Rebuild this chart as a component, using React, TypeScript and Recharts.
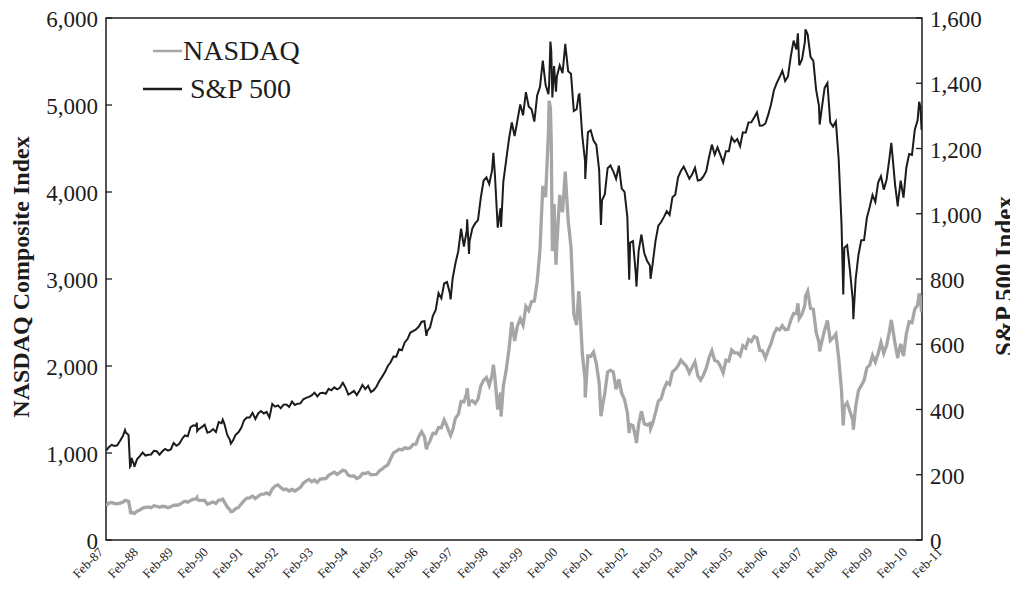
import React from "react"
import { LineChart, Line, XAxis, YAxis, ReferenceArea, ReferenceLine } from "recharts"

// month-end closes, Jan-87 .. Feb-11 (first value sits at Feb-87)
const spMonthEnd = [
  274.1, 284.2, 291.7, 288.4, 290.1, 304.0, 318.7, 329.8, 321.8, 251.8, 230.3, 247.1,
  257.1, 267.8, 258.9, 261.3, 262.2, 273.5, 272.0, 261.5, 271.9, 278.9, 273.7, 277.7,
  297.5, 288.9, 294.9, 309.6, 320.5, 318.0, 346.1, 351.5, 349.2, 340.4, 346.0, 353.4,
  329.1, 331.9, 339.9, 330.8, 361.2, 358.0, 356.2, 322.6, 306.1, 304.0, 322.2, 330.2,
  343.9, 367.1, 375.2, 375.3, 389.8, 371.2, 387.8, 395.4, 387.9, 392.5, 375.2, 417.1,
  408.8, 412.7, 403.7, 415.0, 415.4, 408.1, 424.2, 414.0, 417.8, 418.7, 431.4, 435.7,
  438.8, 443.4, 451.7, 440.2, 450.2, 451.0, 448.1, 463.6, 458.9, 467.8, 461.8, 466.5,
  481.6, 467.1, 445.8, 450.9, 457.0, 444.3, 458.3, 475.5, 462.7, 472.4, 453.7, 459.3,
  470.4, 487.4, 500.7, 514.7, 533.4, 544.8, 562.1, 561.9, 584.4, 581.5, 605.4, 615.9,
  636.0, 640.4, 645.5, 654.2, 669.1, 670.6, 640.0, 652.0, 687.3, 705.3, 757.0, 740.7,
  786.2, 790.8, 757.1, 801.3, 848.3, 885.1, 954.3, 899.5, 947.3, 914.6, 955.4, 970.4,
  980.3, 1049.3, 1101.8, 1111.8, 1090.8, 1133.8, 1120.7, 957.3, 1017.0, 1098.7, 1163.6, 1229.2,
  1279.6, 1238.3, 1286.4, 1335.2, 1301.8, 1372.7, 1328.7, 1320.4, 1282.7, 1362.9, 1388.9, 1469.3,
  1394.5, 1366.4, 1498.6, 1452.4, 1420.6, 1454.6, 1430.8, 1517.7, 1436.5, 1429.4, 1315.0, 1320.3,
  1366.0, 1239.9, 1160.3, 1249.5, 1255.8, 1224.4, 1211.2, 1133.6, 1040.9, 1059.8, 1139.5, 1148.1,
  1130.2, 1106.7, 1147.4, 1076.9, 1067.1, 989.8, 911.6, 916.1, 815.3, 885.8, 936.3, 879.8,
  855.7, 841.2, 848.2, 916.9, 963.6, 974.5, 990.3, 1008.0, 996.0, 1050.7, 1058.2, 1111.9,
  1131.1, 1144.9, 1126.2, 1107.3, 1120.7, 1140.8, 1101.7, 1104.2, 1114.6, 1130.2, 1173.8, 1211.9,
  1181.3, 1203.6, 1180.6, 1156.9, 1191.5, 1191.3, 1234.2, 1220.3, 1228.8, 1207.0, 1249.5, 1248.3,
  1280.1, 1280.7, 1294.8, 1310.6, 1270.1, 1270.2, 1276.7, 1303.8, 1335.9, 1377.9, 1400.6, 1418.3,
  1438.2, 1406.8, 1420.9, 1482.4, 1530.6, 1503.4, 1455.3, 1474.0, 1526.8, 1549.4, 1481.1, 1468.4,
  1378.6, 1330.6, 1322.7, 1385.6, 1400.4, 1280.0, 1267.4, 1282.8, 1166.4, 968.8, 896.2, 903.3,
  825.9, 735.1, 797.9, 872.8, 919.1, 919.3, 987.5, 1020.6, 1057.1, 1036.2, 1095.6, 1115.1,
  1073.9, 1104.5, 1169.4, 1186.7, 1089.4, 1030.7, 1101.6, 1049.3, 1141.2, 1183.3, 1180.6, 1257.6,
  1286.1, 1327.2,
]

const nqMonthEnd = [
  392.1, 424.0, 430.1, 417.8, 416.5, 424.7, 434.9, 455.0, 444.3, 323.3, 305.2, 330.5,
  344.7, 367.0, 374.6, 379.2, 370.3, 394.7, 387.3, 376.6, 387.7, 382.5, 371.5, 381.4,
  401.3, 399.7, 406.7, 427.6, 446.2, 435.3, 453.8, 469.3, 472.9, 455.6, 456.1, 454.8,
  410.7, 425.8, 435.5, 420.1, 459.0, 462.3, 438.2, 381.2, 344.5, 329.8, 359.1, 373.8,
  414.2, 453.1, 482.3, 484.7, 506.1, 475.9, 502.0, 525.7, 526.9, 543.0, 523.9, 586.3,
  620.2, 633.5, 603.8, 578.7, 585.3, 563.6, 580.8, 563.1, 583.3, 605.2, 652.7, 677.0,
  696.3, 670.8, 690.1, 661.4, 700.5, 704.0, 704.7, 742.8, 762.8, 779.3, 754.4, 776.8,
  800.5, 792.5, 743.5, 733.8, 735.2, 706.0, 722.2, 765.6, 764.3, 777.5, 750.3, 752.0,
  755.2, 793.7, 817.2, 844.0, 864.6, 933.5, 1001.2, 1020.1, 1043.5, 1036.1, 1059.2, 1052.1,
  1059.8, 1100.1, 1101.4, 1190.5, 1243.4, 1185.0, 1080.6, 1141.5, 1226.9, 1221.5, 1292.6, 1291.0,
  1379.9, 1309.0, 1221.7, 1260.8, 1400.3, 1442.1, 1593.8, 1587.3, 1685.7, 1593.6, 1601.0, 1570.4,
  1619.4, 1770.5, 1835.7, 1868.4, 1778.9, 1894.7, 1872.4, 1499.3, 1693.8, 1771.4, 1949.5, 2192.7,
  2505.9, 2288.0, 2461.4, 2542.9, 2470.5, 2686.1, 2638.5, 2739.4, 2746.2, 2966.4, 3336.2, 4069.3,
  3940.4, 4696.7, 4572.8, 3860.7, 3400.9, 3966.1, 3767.0, 4206.4, 3672.8, 3369.6, 2597.9, 2470.5,
  2772.7, 2151.8, 1840.3, 2116.2, 2110.5, 2160.5, 2027.1, 1805.4, 1498.8, 1690.2, 1930.6, 1950.4,
  1934.0, 1731.5, 1845.4, 1688.2, 1615.7, 1463.2, 1328.3, 1314.9, 1172.1, 1329.8, 1478.8, 1335.5,
  1320.9, 1337.5, 1341.2, 1464.3, 1595.9, 1622.8, 1735.0, 1810.5, 1786.9, 1932.2, 1960.3, 2003.4,
  2066.2, 2029.8, 1994.2, 1920.2, 1986.7, 2047.8, 1887.4, 1838.1, 1896.8, 1975.0, 2096.8, 2175.4,
  2062.4, 2051.7, 1999.2, 1921.7, 2068.2, 2057.0, 2184.8, 2152.1, 2151.7, 2120.3, 2232.8, 2205.3,
  2305.8, 2281.4, 2339.8, 2322.6, 2178.9, 2172.1, 2091.5, 2183.8, 2258.4, 2366.7, 2431.8, 2415.3,
  2463.9, 2416.2, 2421.6, 2525.1, 2604.5, 2603.2, 2546.3, 2596.4, 2701.5, 2859.1, 2661.0, 2652.3,
  2389.9, 2271.5, 2279.1, 2412.8, 2522.7, 2293.0, 2325.6, 2367.5, 2091.9, 1721.0, 1535.6, 1577.0,
  1476.4, 1377.8, 1528.6, 1717.3, 1774.3, 1835.0, 1979.0, 2009.1, 2122.4, 2045.1, 2144.6, 2269.2,
  2147.4, 2238.3, 2398.0, 2461.2, 2257.0, 2109.2, 2254.7, 2114.0, 2368.6, 2507.4, 2498.2, 2652.9,
  2700.1, 2782.3,
]

// intra-month highs and lows that show in the daily lines
const extraDates = [
  "1987-08-25", "1987-10-19", "1987-10-26", "1987-12-04", "1989-10-09", "1989-10-13",
  "1990-07-16", "1990-10-11", "1994-02-02", "1996-07-24", "1997-04-11", "1997-10-07",
  "1997-10-27", "1998-07-17", "1998-10-08", "2000-03-10", "2000-03-24", "2000-04-14",
  "2000-05-23", "2000-09-01", "2001-01-24", "2001-04-04", "2001-09-21", "2002-07-23",
  "2002-10-09", "2003-03-11", "2007-07-19", "2007-10-09", "2008-03-10", "2008-11-20",
  "2009-03-09", "2010-04-23", "2010-07-02", "2011-02-18", "2011-03-16",
]
const extraNq = [
  455, 360, 299, 305, 485, 467,
  469, 325, 803, 1042, 1201, 1745,
  1535, 2015, 1419, 5048, 4963, 3321,
  3164, 4234, 2859, 1638, 1423, 1229,
  1114, 1279, 2720, 2803, 2169, 1316,
  1269, 2530, 2091, 2833, 2617,
]
const extraSp = [
  336.8, 224.8, 227.7, 223.9, 359.8, 333.7,
  369.0, 295.5, 482.0, 626.0, 737.7, 983.1,
  877.0, 1186.8, 959.4, 1395.1, 1527.5, 1356.6,
  1373.9, 1520.8, 1365.0, 1106.5, 965.8, 797.7,
  776.8, 800.7, 1553.1, 1565.2, 1273.4, 752.4,
  676.5, 1217.3, 1022.6, 1343.0, 1256.9,
]

const yearLabels = [
  "Feb-87", "Feb-88", "Feb-89", "Feb-90", "Feb-91", "Feb-92", "Feb-93", "Feb-94", "Feb-95",
  "Feb-96", "Feb-97", "Feb-98", "Feb-99", "Feb-00", "Feb-01", "Feb-02", "Feb-03", "Feb-04",
  "Feb-05", "Feb-06", "Feb-07", "Feb-08", "Feb-09", "Feb-10", "Feb-11",
]
const leftTicks = [0, 1000, 2000, 3000, 4000, 5000, 6000]
const rightTicks = [0, 200, 400, 600, 800, 1000, 1200, 1400, 1600]
const seriesNames = ["NASDAQ", "S&P 500"]

const START = Date.UTC(1987, 1, 1)
const yearsFrom = (iso: string) => (Date.parse(iso) - START) / (365.25 * 864e5)

const data = [
  ...spMonthEnd.map((sp, i) => ({ t: i / 12, sp, nq: nqMonthEnd[i] })),
  ...extraDates.map((d, i) => ({ t: yearsFrom(d), sp: extraSp[i], nq: extraNq[i] })),
].sort((a, b) => a.t - b.t)

const FONT = "'Liberation Serif', 'Times New Roman', serif"
const INK = "#1c1c1c"
const GREY = "#a6a6a6"
const fmt = (v: number) => v.toLocaleString("en-US")

const LeftTick = ({ x, y, payload }: any) => (
  <g>
    <line x1={x + 8} x2={x + 14} y1={y} y2={y} stroke={INK} strokeWidth={1.3} />
    <text x={x} y={y} dy={9} textAnchor="end" fontSize={23} fill={INK} fontFamily={FONT}>
      {fmt(payload.value)}
    </text>
  </g>
)

const RightTick = ({ x, y, payload }: any) => (
  <g>
    <line x1={x - 8} x2={x - 14} y1={y} y2={y} stroke={INK} strokeWidth={1.3} />
    <text x={x} y={y} dy={9} textAnchor="start" fontSize={23} fill={INK} fontFamily={FONT}>
      {fmt(payload.value)}
    </text>
  </g>
)

// date labels hang under each year line; the printed ones run a bit wider than a year
const DateLabel = ({ viewBox, idx }: any) => {
  const ax = viewBox.x - 2 + idx * 1.14
  const ay = viewBox.y + viewBox.height + 13
  return (
    <g transform={`translate(${ax},${ay}) rotate(-45)`}>
      <text x={0} y={0} textAnchor="end" fontSize={13} fill={INK} fontFamily={FONT}>
        {yearLabels[idx]}
      </text>
    </g>
  )
}

const LeftTitle = ({ viewBox }: any) => {
  const cy = viewBox.y + viewBox.height / 2 - 2
  return (
    <g transform={`translate(21,${cy}) rotate(-90)`}>
      <text x={0} y={0} textAnchor="middle" fontSize={24} fontWeight="bold" fill={INK} fontFamily={FONT}>
        NASDAQ Composite Index
      </text>
    </g>
  )
}

const RightTitle = ({ viewBox }: any) => {
  const cy = viewBox.y + viewBox.height / 2 - 3
  const x = viewBox.x + 91
  return (
    <g transform={`translate(${x},${cy}) rotate(-90)`}>
      <text x={0} y={0} textAnchor="middle" fontSize={25} fontWeight="bold" fill={INK} fontFamily={FONT}>
        S&amp;P 500 Index
      </text>
    </g>
  )
}

export default function App() {
  return (
    <div style={{ position: "relative", width: 1010, height: 591, marginTop: -8, fontFamily: FONT }}>
      <LineChart width={1010} height={591} data={data} margin={{ top: 18, right: 0, bottom: 0, left: 0 }}>
        <XAxis
          xAxisId="t"
          dataKey="t"
          type="number"
          domain={[0, 24.13]}
          allowDataOverflow
          axisLine={false}
          tickLine={false}
          tick={false}
          height={51}
        />
        <YAxis
          yAxisId="left"
          domain={[0, 6000]}
          ticks={leftTicks}
          width={98}
          axisLine={false}
          tickLine={false}
          tickSize={0}
          tickMargin={8}
          interval={0}
          tick={<LeftTick />}
          label={<LeftTitle />}
        />
        <YAxis
          yAxisId="right"
          orientation="right"
          domain={[0, 1600]}
          ticks={rightTicks}
          width={96}
          axisLine={false}
          tickLine={false}
          tickSize={0}
          tickMargin={8}
          interval={0}
          tick={<RightTick />}
          label={<RightTitle />}
        />
        <ReferenceArea xAxisId="t" yAxisId="left" x1={0} x2={24.13} y1={0} y2={6000}
          fill="none" stroke={INK} strokeWidth={1.5} />
        {yearLabels.map((_, k) => (
          <ReferenceLine key={k} xAxisId="t" yAxisId="left" x={k} stroke="none"
            label={<DateLabel idx={k} />} />
        ))}
        <Line xAxisId="t" yAxisId="left" type="linear" dataKey="nq" name={seriesNames[0]}
          stroke={GREY} strokeWidth={3.3} dot={false} isAnimationActive={false} />
        <Line xAxisId="t" yAxisId="right" type="linear" dataKey="sp" name={seriesNames[1]}
          stroke={INK} strokeWidth={2} dot={false} isAnimationActive={false} />
      </LineChart>
      <svg width={300} height={110} style={{ position: "absolute", left: 0, top: 0 }}>
        <line x1={145} x2={174} y1={51} y2={51} stroke={GREY} strokeWidth={2.5} />
        <text x={175} y={60} fontSize={28} fill={INK} fontFamily={FONT}>{seriesNames[0]}</text>
        <line x1={135} x2={174} y1={89} y2={89} stroke={INK} strokeWidth={2.5} />
        <text x={182} y={98} fontSize={28} fill={INK} fontFamily={FONT}>{seriesNames[1]}</text>
      </svg>
    </div>
  )
}
